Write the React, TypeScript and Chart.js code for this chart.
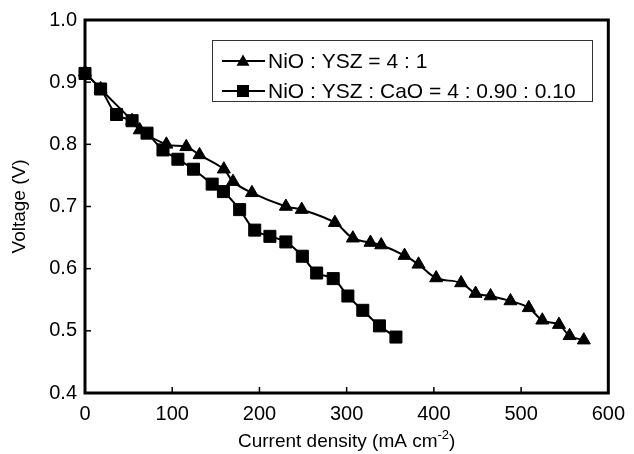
import React, { useEffect, useRef } from "react";
import { Chart, registerables } from "chart.js";

Chart.register(...registerables);

const triX = [0, 17.9, 54, 62.8, 93.3, 116.1, 131.3, 159.2, 169.7, 191.4, 230.3, 248.5, 286.5, 307.1, 327.3, 339.6, 366.4, 382.4, 402.6, 431.2, 447.8, 465, 487.8, 508.8, 524.3, 543.4, 555.6, 571.9];
const triV = [0.916, 0.889, 0.838, 0.823, 0.8, 0.796, 0.783, 0.76, 0.74, 0.722, 0.7, 0.695, 0.674, 0.649, 0.642, 0.638, 0.621, 0.607, 0.585, 0.577, 0.56, 0.556, 0.548, 0.537, 0.517, 0.51, 0.492, 0.485];
const sqX = [0, 17.9, 36.2, 54, 71.1, 89.4, 106.5, 124.4, 145.8, 158.7, 177.3, 194.6, 212, 230.3, 249.2, 265.6, 284.6, 301.4, 318.5, 337.6, 356.5];
const sqV = [0.914, 0.889, 0.848, 0.838, 0.818, 0.791, 0.776, 0.76, 0.736, 0.724, 0.695, 0.662, 0.652, 0.643, 0.62, 0.593, 0.584, 0.556, 0.533, 0.508, 0.49];
const seriesNames = ["NiO : YSZ = 4 : 1", "NiO : YSZ : CaO = 4 : 0.90 : 0.10"];
const xTicks = [0, 100, 200, 300, 400, 500, 600];
const yTicks = [0.4, 0.5, 0.6, 0.7, 0.8, 0.9, 1.0];
const xTitle = "Current density (mA cm";
const xTitleSup = "-2";
const yTitle = "Voltage (V)";

const FONT = "'Liberation Sans', Arial, Helvetica, sans-serif";

const framePlugin = {
  id: "framePlugin",
  beforeDatasetsDraw(chart: any) {
    const { ctx, chartArea: a } = chart;
    const xs = chart.scales.x;
    const ys = chart.scales.y;
    ctx.save();
    ctx.strokeStyle = "#000";
    ctx.lineWidth = 1.5;
    xTicks.slice(1, -1).forEach((t) => {
      const px = xs.getPixelForValue(t);
      ctx.beginPath();
      ctx.moveTo(px, a.bottom);
      ctx.lineTo(px, a.bottom - 6);
      ctx.stroke();
    });
    yTicks.slice(1, -1).forEach((t) => {
      const py = ys.getPixelForValue(t);
      ctx.beginPath();
      ctx.moveTo(a.left, py);
      ctx.lineTo(a.left + 6, py);
      ctx.stroke();
    });
    ctx.lineWidth = 3;
    ctx.strokeRect(a.left, a.top, a.right - a.left, a.bottom - a.top);
    ctx.restore();
  },
  afterDraw(chart: any) {
    const { ctx, chartArea: a } = chart;
    ctx.save();
    ctx.fillStyle = "#000";
    // y title
    ctx.save();
    ctx.translate(20, (a.top + a.bottom) / 2);
    ctx.rotate(-Math.PI / 2);
    ctx.font = `19px ${FONT}`;
    ctx.textAlign = "center";
    ctx.textBaseline = "middle";
    ctx.fillText(yTitle, 0, 0);
    ctx.restore();
    // x title
    ctx.font = `19px ${FONT}`;
    const w1 = ctx.measureText(xTitle).width;
    ctx.font = `13px ${FONT}`;
    const w2 = ctx.measureText(xTitleSup).width;
    ctx.font = `19px ${FONT}`;
    const w3 = ctx.measureText(")").width;
    const total = w1 + w2 + w3;
    const x0 = (a.left + a.right) / 2 - total / 2;
    const yb = 447;
    ctx.textAlign = "left";
    ctx.textBaseline = "alphabetic";
    ctx.fillText(xTitle, x0, yb);
    ctx.font = `13px ${FONT}`;
    ctx.fillText(xTitleSup, x0 + w1, yb - 8);
    ctx.font = `19px ${FONT}`;
    ctx.fillText(")", x0 + w1 + w2, yb);

    // legend
    ctx.strokeStyle = "#333";
    ctx.lineWidth = 1;
    ctx.strokeRect(212.5, 40.5, 380, 61);
    const rows = [61, 91];
    rows.forEach((ry, i) => {
      ctx.strokeStyle = "#000";
      ctx.lineWidth = 2;
      ctx.beginPath();
      ctx.moveTo(222, ry);
      ctx.lineTo(265, ry);
      ctx.stroke();
      ctx.fillStyle = "#000";
      const cx = 243;
      if (i === 0) {
        const r = 7.5;
        ctx.beginPath();
        ctx.moveTo(cx, ry - r * 0.75 - 1);
        ctx.lineTo(cx + r * 0.866, ry + r * 0.75 - 1);
        ctx.lineTo(cx - r * 0.866, ry + r * 0.75 - 1);
        ctx.closePath();
        ctx.fill();
      } else {
        ctx.fillRect(cx - 6, ry - 6, 12, 12);
      }
      ctx.font = `21px ${FONT}`;
      ctx.textAlign = "left";
      ctx.textBaseline = "middle";
      ctx.fillText(seriesNames[i], 268, ry + 1);
    });
    ctx.restore();
  },
};

export default function App() {
  const ref = useRef<HTMLCanvasElement | null>(null);
  useEffect(() => {
    if (!ref.current) return;
    const chart = new Chart(ref.current, {
      type: "line",
      data: {
        datasets: [
          {
            label: seriesNames[0],
            data: triX.map((x, i) => ({ x, y: triV[i] })),
            borderColor: "#000",
            backgroundColor: "#000",
            borderWidth: 2,
            pointStyle: "triangle",
            pointRadius: 7.5,
            pointBorderWidth: 1,
            tension: 0.4,
            order: 1,
            clip: false as any,
          },
          {
            label: seriesNames[1],
            data: sqX.map((x, i) => ({ x, y: sqV[i] })),
            borderColor: "#000",
            backgroundColor: "#000",
            borderWidth: 2,
            pointStyle: "rect",
            pointRadius: 8.5,
            pointBorderWidth: 1,
            tension: 0.4,
            order: 0,
            clip: false as any,
          },
        ],
      },
      options: {
        animation: false,
        responsive: true,
        maintainAspectRatio: false,
        layout: { padding: { top: 20, right: 24, left: 0, bottom: 0 } },
        plugins: { legend: { display: false }, tooltip: { enabled: false } },
        scales: {
          x: {
            type: "linear",
            min: 0,
            max: 600,
            grid: { display: false, drawTicks: false },
            border: { display: false },
            ticks: {
              stepSize: 100,
              color: "#000",
              font: { size: 20, family: FONT },
              padding: 9,
              maxRotation: 0,
            },
            afterFit: (s: any) => {
              s.height = 61;
            },
          },
          y: {
            type: "linear",
            min: 0.4,
            max: 1.0,
            grid: { display: false, drawTicks: false },
            border: { display: false },
            ticks: {
              stepSize: 0.1,
              color: "#000",
              font: { size: 20, family: FONT },
              padding: 8,
              callback: (v: any) => Number(v).toFixed(1),
            },
            afterFit: (s: any) => {
              s.width = 85;
            },
          },
        },
      },
      plugins: [framePlugin],
    });
    return () => chart.destroy();
  }, []);
  return (
    <div style={{ position: "fixed", left: 0, top: 0, width: 634, height: 454, background: "#fff" }}>
      <canvas ref={ref} />
    </div>
  );
}
